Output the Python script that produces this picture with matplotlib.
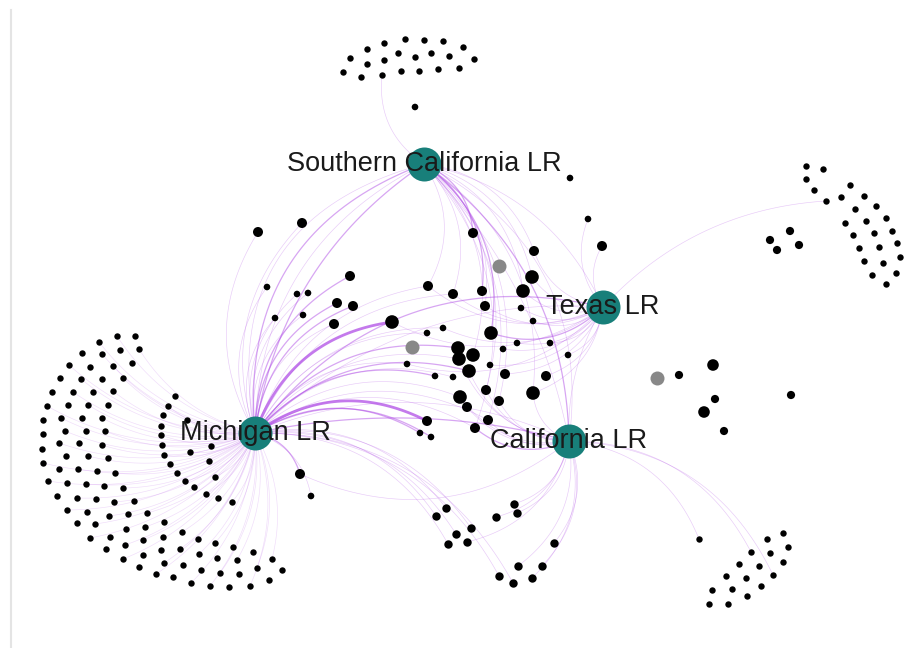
import numpy as np
import matplotlib.pyplot as plt

plt.rcParams['font.family'] = ['Liberation Sans', 'DejaVu Sans']

# 中心節點 (hub)
hub_names = ["Southern California LR", "Texas LR", "California LR", "Michigan LR"]
hub_x = [424, 603, 569, 255]
hub_y = [164, 307, 441, 433]

# 中央節點: x, y, 大小等級 (1 小, 2 中, 3 大)
mid_x = [258, 302, 473, 588, 602, 534, 532, 523, 350, 428, 453, 482, 267, 297, 308, 337, 353, 485, 521, 275,
         303, 334, 392, 427, 443, 491, 533, 458, 459, 473, 503, 517, 550, 568, 407, 435, 453, 469, 490, 505,
         546, 460, 467, 486, 499, 533, 427, 420, 431, 475, 488, 570, 415, 300, 311]
mid_y = [232, 223, 233, 219, 246, 251, 277, 291, 276, 286, 294, 291, 287, 294, 293, 303, 306, 306, 308, 318,
         315, 324, 322, 333, 328, 333, 321, 348, 359, 355, 349, 343, 343, 355, 364, 376, 377, 371, 365, 374,
         376, 397, 407, 390, 401, 393, 421, 433, 437, 428, 420, 178, 107, 474, 496]
mid_size = [2, 2, 2, 1, 2, 2, 3, 3, 2, 2, 2, 2, 1, 1, 1, 2, 2, 2, 1, 1,
            1, 2, 3, 1, 1, 3, 1, 3, 3, 3, 1, 1, 1, 1, 1, 1, 1, 3, 1, 2,
            2, 3, 2, 2, 2, 3, 2, 1, 1, 2, 2, 1, 1, 2, 1]

# 下方中間群
bot_x = [446, 436, 514, 517, 496, 471, 456, 467, 448, 554, 518, 542, 499, 532, 513]
bot_y = [508, 516, 504, 513, 517, 528, 534, 542, 544, 543, 566, 566, 576, 578, 583]

# 右側散點
right_x = [679, 713, 715, 704, 724, 791, 770, 790, 799, 777]
right_y = [375, 365, 399, 412, 431, 395, 240, 231, 245, 250]
right_size = [1, 2, 1, 2, 1, 1, 1, 1, 1, 1]

# 灰色節點
gray_x = [499, 412, 657]
gray_y = [266, 347, 378]

# 上方群
top_x = [405, 424, 443, 384, 463, 367, 398, 431, 350, 415, 449, 474, 384, 367, 343, 401, 419, 438, 459, 361, 382]
top_y = [39, 40, 41, 43, 47, 49, 53, 53, 58, 57, 56, 59, 60, 64, 72, 71, 71, 69, 68, 77, 75]

# 右上群
tr_x = [806, 823, 806, 850, 814, 841, 864, 826, 876, 855, 886, 866, 845, 892, 874, 853, 897, 879, 859, 900,
        883, 864, 896, 872, 886]
tr_y = [166, 169, 179, 185, 190, 197, 196, 201, 206, 209, 218, 221, 223, 231, 233, 235, 243, 247, 248, 257,
        263, 261, 273, 275, 284]

# 右下群
br_x = [699, 783, 767, 788, 751, 770, 783, 739, 759, 726, 746, 773, 761, 712, 732, 747, 709, 728]
br_y = [539, 533, 539, 547, 552, 553, 562, 564, 566, 576, 578, 575, 586, 590, 589, 596, 604, 604]

# 左側大群
left_x = [117, 135, 99, 120, 139, 82, 102, 132, 69, 90, 113, 60, 81, 102, 123, 52, 73, 93, 113, 175,
          47, 68, 88, 108, 168, 43, 61, 82, 102, 163, 187, 43, 65, 86, 105, 161, 161, 42, 59, 79,
          102, 162, 190, 211, 43, 66, 88, 108, 164, 209, 48, 59, 78, 97, 115, 170, 215, 67, 86, 104,
          123, 177, 185, 194, 206, 218, 232, 57, 77, 96, 114, 134, 67, 87, 109, 128, 147, 77, 95, 126,
          145, 164, 90, 110, 143, 163, 182, 106, 125, 161, 180, 198, 215, 233, 123, 143, 164, 183, 199, 217,
          237, 253, 272, 139, 156, 173, 191, 201, 220, 239, 257, 282, 210, 229, 250, 269]
left_y = [336, 336, 342, 350, 349, 353, 354, 363, 365, 367, 366, 378, 379, 379, 378, 392, 392, 392, 391, 396,
          406, 405, 405, 405, 406, 420, 418, 418, 418, 415, 420, 434, 431, 431, 431, 426, 435, 449, 443, 443,
          445, 445, 452, 446, 463, 456, 456, 458, 455, 461, 481, 469, 469, 471, 473, 464, 477, 483, 484, 486,
          488, 473, 481, 487, 494, 498, 502, 496, 498, 499, 502, 501, 510, 512, 516, 514, 513, 523, 524, 529,
          527, 522, 538, 537, 540, 537, 532, 549, 545, 550, 549, 539, 543, 547, 559, 555, 563, 565, 554, 558,
          560, 552, 559, 567, 574, 577, 583, 570, 573, 574, 568, 570, 586, 587, 586, 580]

# 邊: (hub 編號, 中央節點編號, 權重)
mid_edges = [
    (3, 8, 2), (3, 9, 1), (3, 10, 1), (3, 12, 1), (3, 13, 1), (3, 14, 1), (3, 15, 2), (3, 16, 2),
    (3, 19, 1), (3, 20, 1), (3, 21, 1), (3, 22, 3), (3, 23, 1), (3, 24, 1), (3, 27, 2), (3, 28, 1),
    (3, 34, 1), (3, 35, 2), (3, 36, 1), (3, 37, 2), (3, 41, 1), (3, 46, 3), (3, 47, 2), (3, 48, 2),
    (3, 49, 1), (3, 50, 1), (3, 53, 2), (3, 54, 1), (3, 0, 1), (3, 1, 1),
    (0, 2, 2), (0, 5, 1), (0, 6, 1), (0, 7, 1), (0, 11, 2), (0, 17, 1), (0, 25, 2), (0, 29, 1),
    (0, 43, 1), (0, 44, 1), (0, 45, 1), (0, 49, 1), (0, 50, 1), (0, 9, 1), (0, 10, 1),
    (1, 3, 1), (1, 4, 1), (1, 5, 1), (1, 6, 1), (1, 7, 1), (1, 17, 1), (1, 18, 1), (1, 25, 2),
    (1, 26, 1), (1, 30, 1), (1, 31, 1), (1, 32, 1), (1, 33, 1), (1, 38, 1), (1, 39, 1), (1, 40, 1),
    (1, 22, 1), (1, 24, 1), (1, 9, 1), (1, 10, 1), (1, 45, 1), (1, 34, 1),
    (2, 45, 1), (2, 49, 2), (2, 50, 1), (2, 41, 1), (2, 42, 1), (2, 43, 1), (2, 44, 1), (2, 53, 1),
    (2, 28, 1), (2, 37, 1),
]

# hub 之間的邊: (起點, 終點, 彎曲, 權重)
hub_edges = [
    (3, 0, -0.22, 2), (3, 0, -0.3, 1), (3, 0, -0.38, 2), (3, 0, -0.46, 1),
    (3, 1, -0.22, 1), (3, 1, -0.32, 2), (3, 2, -0.12, 2), (3, 2, -0.22, 1),
    (0, 2, -0.15, 1), (0, 2, -0.25, 2), (0, 2, -0.35, 1), (0, 1, -0.25, 1),
    (2, 1, -0.15, 1),
]

# 其他邊
bot_edges = [(3, 0), (3, 1), (3, 6), (3, 8), (3, 5), (2, 2), (2, 3), (2, 4), (2, 9), (2, 10),
             (2, 11), (2, 13), (2, 7), (3, 12), (3, 14)]

edge_color = '#b04ee6'
edge_lw = {1: 0.45, 2: 0.9, 3: 2.0}
edge_alpha = {1: 0.3, 2: 0.5, 3: 0.75}


def curve(x0, y0, x1, y1, k=-0.3, n=50):
    dx, dy = x1 - x0, y1 - y0
    cx = (x0 + x1) / 2 + k * (-dy)
    cy = (y0 + y1) / 2 + k * dx
    t = np.linspace(0, 1, n)
    xs = (1 - t) ** 2 * x0 + 2 * (1 - t) * t * cx + t ** 2 * x1
    ys = (1 - t) ** 2 * y0 + 2 * (1 - t) * t * cy + t ** 2 * y1
    return xs, ys


def draw_edge(ax, x0, y0, x1, y1, w=1, k=-0.3):
    xs, ys = curve(x0, y0, x1, y1, k)
    ax.plot(xs, ys, color=edge_color, lw=edge_lw[w], alpha=edge_alpha[w],
            solid_capstyle='round', zorder=1)


def px_to_s(r):
    # 半徑(像素) -> scatter 的 s
    return (2 * r * 0.72) ** 2


fig = plt.figure(figsize=(9.16, 6.48), dpi=100)
ax = fig.add_axes([0, 0, 1, 1])
ax.set_xlim(0, 916)
ax.set_ylim(648, 0)
ax.axis('off')

# 左邊淡灰線
ax.plot([11, 11], [10, 648], color='#e4e4e4', lw=1.5, zorder=0)

# 邊
for h, i, w in mid_edges:
    draw_edge(ax, hub_x[h], hub_y[h], mid_x[i], mid_y[i], w)
for a, b, k, w in hub_edges:
    draw_edge(ax, hub_x[a], hub_y[a], hub_x[b], hub_y[b], w, k)
for h, i in bot_edges:
    draw_edge(ax, hub_x[h], hub_y[h], bot_x[i], bot_y[i], 1)
for x, y in zip(left_x[::2], left_y[::2]):
    xs, ys = curve(hub_x[3], hub_y[3], x, y, -0.2)
    ax.plot(xs, ys, color=edge_color, lw=0.45, alpha=0.2, zorder=1)
draw_edge(ax, hub_x[0], hub_y[0], top_x[20], top_y[20], 1, -0.3)
draw_edge(ax, hub_x[1], hub_y[1], tr_x[7], tr_y[7], 1, -0.2)
for i in [0, 4, 11]:
    draw_edge(ax, hub_x[2], hub_y[2], br_x[i], br_y[i], 1, -0.3)

# 節點
size_px = {1: 3.3, 2: 5.0, 3: 6.8}
ax.scatter(mid_x, mid_y, s=[px_to_s(size_px[s]) for s in mid_size], c='black', lw=0, zorder=3)
ax.scatter(bot_x, bot_y, s=px_to_s(4.2), c='black', lw=0, zorder=3)
ax.scatter(right_x, right_y, s=[px_to_s(size_px[s] + 0.8) for s in right_size], c='black', lw=0, zorder=3)
ax.scatter(gray_x, gray_y, s=px_to_s(7), c='#888888', lw=0, zorder=3)
for xs, ys in [(top_x, top_y), (tr_x, tr_y), (br_x, br_y), (left_x, left_y)]:
    ax.scatter(xs, ys, s=px_to_s(3.2), c='black', lw=0, zorder=3)

ax.scatter(hub_x, hub_y, s=px_to_s(17), c='#187f7a', lw=0, zorder=4)
for name, x, y in zip(hub_names, hub_x, hub_y):
    ax.text(x, y, name, fontsize=19.5, color='#1a1a1a', ha='center', va='center', zorder=5)

fig.savefig('out.png', dpi=100)
